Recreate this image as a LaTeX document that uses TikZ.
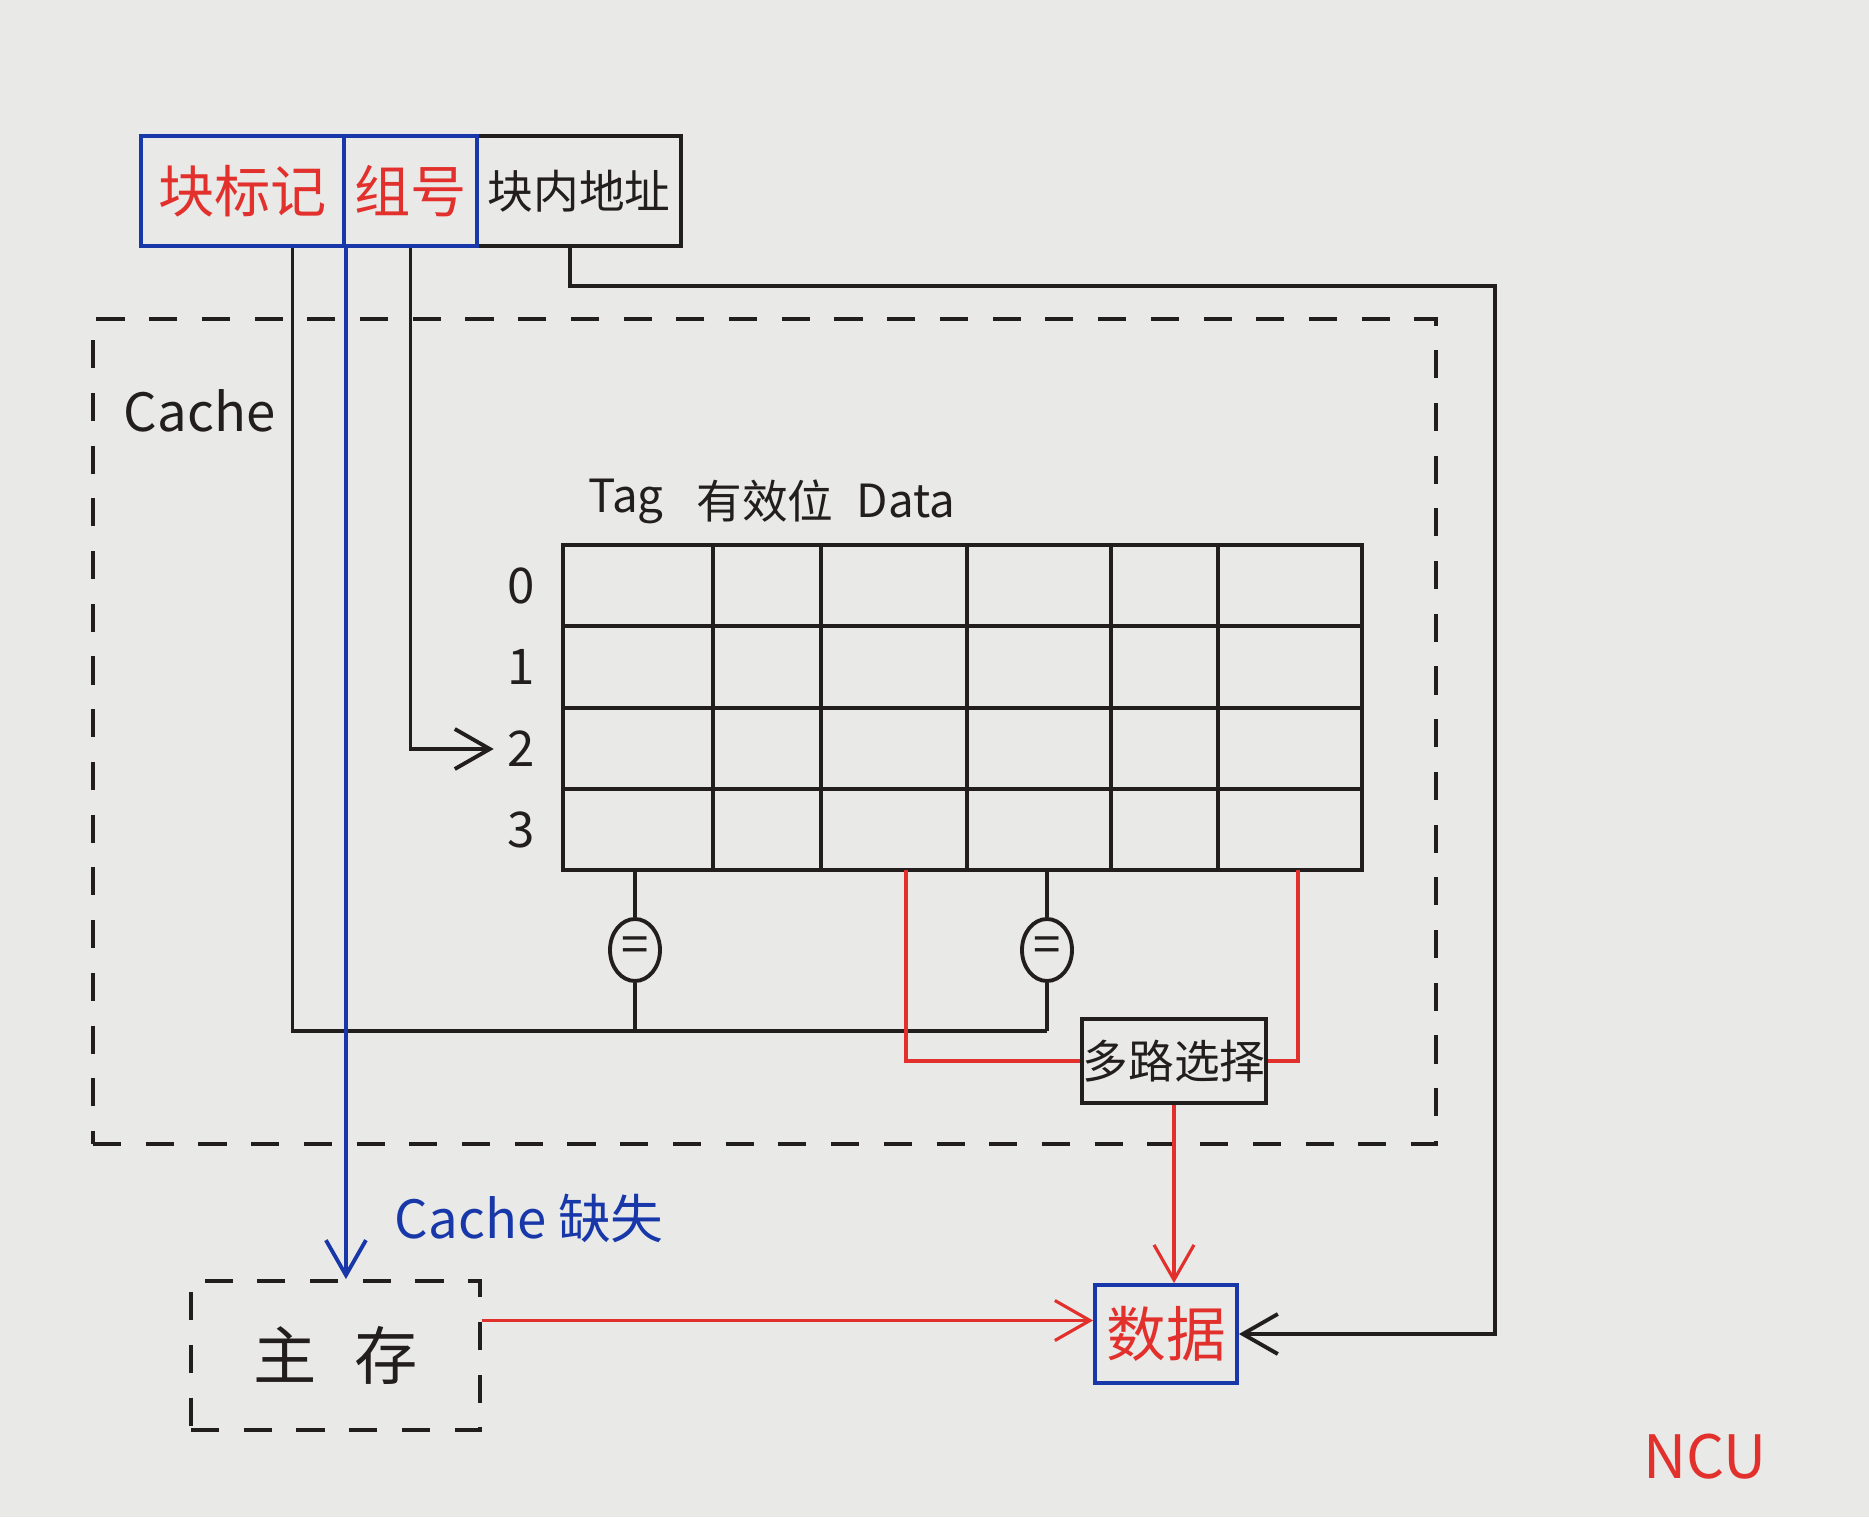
\documentclass[tikz,border=0pt]{standalone}
\usepackage{fontspec}
\setmainfont{Noto Sans CJK SC}
\usetikzlibrary{calc,shapes.geometric,arrows.meta}

\definecolor{paper}{RGB}{233,233,231}
\definecolor{ink}{RGB}{35,30,30}
\definecolor{pred}{RGB}{226,48,44}
\definecolor{pblue}{RGB}{24,56,170}

\tikzset{
  field/.style={draw, minimum height=1.1cm, inner sep=0pt, font=\fontsize{16}{18}\selectfont},
  dashbox/.style={draw, dash pattern=on 8pt off 7pt, inner sep=0pt},
  cmp/.style={draw, ellipse, minimum width=0.5cm, minimum height=0.62cm, inner sep=0pt},
  redline/.style={draw=pred, line width=0.9pt},
  blueline/.style={draw=pblue, line width=1.1pt}
}

\begin{document}
\begin{tikzpicture}[line width=1.1pt, draw=ink, text=ink,
    >={Straight Barb[length=3.5mm,width=4mm]},
    every node/.style={font=\fontsize{14}{16}\selectfont}]

    \fill[paper] (0,0) rectangle (18.69,15.17);
    \useasboundingbox (0,0) rectangle (18.69,15.17);

    % Cache frame
    \node[dashbox, minimum width=13.43cm, minimum height=8.25cm] (cacheBox) at (7.645,7.855) {};
    \node[anchor=west, inner sep=0pt, font=\fontsize{15}{17}\selectfont] (cacheLbl) at (1.22,11.06) {Cache};

    % address fields
    \node[field, minimum width=2.04cm, font=\fontsize{13}{15}\selectfont] (offF) at (5.79,13.26) {块内地址};
    \node[field, draw=pblue, text=pred, minimum width=2.03cm] (tagF) at (2.425,13.26) {块标记};
    \node[field, draw=pblue, text=pred, minimum width=1.33cm] (setF) at (4.105,13.26) {组号};

    % cache array
    \node[draw, minimum width=7.99cm, minimum height=3.25cm, inner sep=0pt] (arr) at (9.625,8.095) {};
    \foreach \x in {7.13,8.21,9.67,11.11,12.18}
        \draw (\x,6.47) -- (\x,9.72);
    \foreach \y in {7.28,8.09,8.91}
        \draw (5.63,\y) -- (13.62,\y);
    \foreach \i/\y in {0/9.31,1/8.50,2/7.68,3/6.87}
        \node (row\i) at (5.21,\y) {\i};

    \node[font=\fontsize{13}{15}\selectfont] (hTag) at (6.26,10.16) {Tag};
    \node[font=\fontsize{13}{15}\selectfont] (hValid) at (7.65,10.16) {有效位};
    \node[font=\fontsize{13}{15}\selectfont] (hData) at (9.06,10.16) {Data};

    % comparators and mux
    \node[cmp] (cmpA) at (6.35,5.67) {=};
    \node[cmp] (cmpB) at (10.47,5.67) {=};
    \node[draw, minimum width=1.84cm, minimum height=0.84cm, inner sep=0pt,
          font=\fontsize{13}{15}\selectfont] (mux) at (11.74,4.56) {多路选择};

    % memory and data
    \node[dashbox, minimum width=2.89cm, minimum height=1.49cm,
          font=\fontsize{18}{20}\selectfont] (mem) at (3.355,1.615) {主\hspace{0.6em}存\hspace{0.9em}};
    \node[draw=pblue, text=pred, minimum width=1.42cm, minimum height=0.98cm, inner sep=0pt,
          font=\fontsize{17}{19}\selectfont] (data) at (11.66,1.83) {数据};

    \node[anchor=west, inner sep=0pt, text=pblue, font=\fontsize{15}{17}\selectfont] (missLbl) at (3.93,2.99) {Cache 缺失};
    \node[text=pred, font=\fontsize{17}{19}\selectfont] (ncu) at (17.05,0.60) {NCU};

    % tag compare
    \coordinate (tagTap) at ($(tagF.south)+(0.5,0)$);
    \coordinate (join) at (10.47,4.86);
    \draw (tagTap) |- (join);
    \draw (cmpA |- arr.south) -- (cmpA.north);
    \draw (cmpA.south) -- (cmpA |- join);
    \draw (cmpB |- arr.south) -- (cmpB.north);
    \draw (cmpB.south) -- (join);

    % set index
    \draw[->] (setF.south) |- (row2.west);

    % block offset
    \coordinate (offTap) at ($(offF.south)+(-0.09,0)$);
    \coordinate (bend) at (14.95,12.31);
    \draw[->] (offTap) |- (bend) |- (data.east);

    % data select
    \coordinate (tapL) at (9.06,6.47);
    \coordinate (tapR) at (12.98,6.47);
    \draw[redline] (tapL) |- (mux.west);
    \draw[redline] (tapR) |- (mux.east);
    \draw[redline, ->] (mux.south) -- (mux.south |- data.north);

    % miss path
    \draw[blueline, ->] (tagF.south east) -- (tagF.south east |- mem.north);
    \coordinate (memOut) at ($(mem.east)+(0,0.35)$);
    \draw[redline, ->] (memOut) -- (memOut -| data.west);

\end{tikzpicture}
\end{document}
